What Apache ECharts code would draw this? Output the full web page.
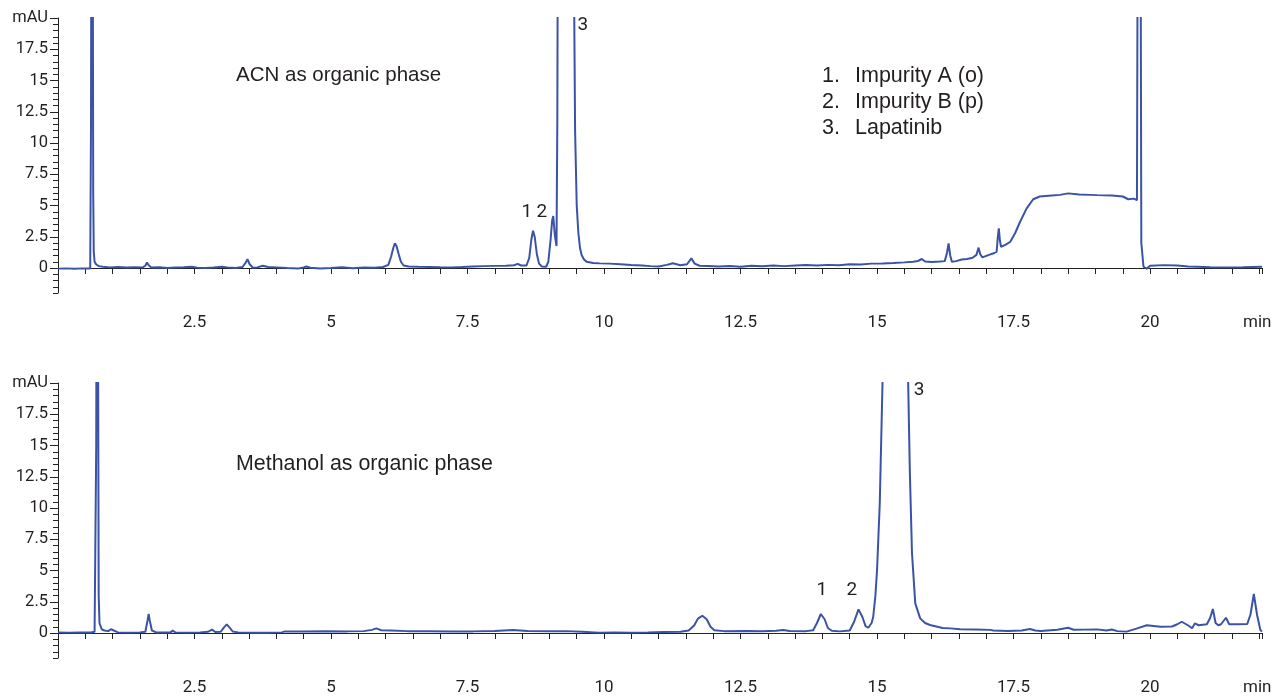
<!DOCTYPE html>
<html>
<head>
<meta charset="utf-8">
<script src="https://cdn.jsdelivr.net/npm/echarts@6/dist/echarts.min.js"></script>
<style>
html,body{margin:0;padding:0;background:#fff;}
#chart{width:1273px;height:696px;}
</style>
</head>
<body>
<div id="chart"></div>
<script>
// ---- data ----
const acnTime = [0.00,0.15,0.30,0.45,0.59,0.605,0.615,0.625,0.635,0.645,0.655,0.67,0.70,0.75,0.82,0.95,1.10,1.25,1.40,1.55,1.60,1.63,1.66,1.71,1.85,2.00,2.15,2.30,2.45,2.55,2.70,2.85,3.00,3.10,3.25,3.38,3.44,3.47,3.51,3.57,3.65,3.75,3.85,4.00,4.20,4.40,4.50,4.55,4.62,4.80,5.00,5.20,5.40,5.60,5.80,5.95,6.05,6.10,6.14,6.17,6.20,6.24,6.28,6.33,6.42,6.60,6.80,7.00,7.20,7.40,7.60,7.80,8.00,8.20,8.35,8.42,8.48,8.58,8.63,8.67,8.70,8.73,8.77,8.81,8.86,8.94,8.98,9.02,9.05,9.07,9.10,9.13,9.145,9.16,9.30,9.44,9.455,9.47,9.50,9.53,9.56,9.59,9.63,9.68,9.80,9.92,10.10,10.30,10.50,10.70,10.85,11.00,11.15,11.26,11.40,11.52,11.60,11.66,11.75,11.90,12.10,12.30,12.50,12.70,12.90,13.10,13.30,13.50,13.70,13.90,14.10,14.30,14.50,14.70,14.90,15.10,15.30,15.50,15.66,15.75,15.82,15.88,16.00,16.15,16.24,16.28,16.31,16.34,16.37,16.45,16.55,16.65,16.75,16.82,16.86,16.89,16.93,17.05,17.15,17.19,17.21,17.23,17.25,17.27,17.35,17.44,17.53,17.62,17.74,17.86,17.98,18.20,18.35,18.50,18.70,18.90,19.03,19.30,19.50,19.60,19.70,19.76,19.775,19.80,19.825,19.84,19.88,19.94,20.00,20.25,20.50,20.70,20.86,21.10,21.40,21.70,22.05];
const acnSignal = [-0.05,-0.03,-0.06,-0.03,-0.04,12,40,48,30,6,1.3,0.5,0.28,0.15,0.1,0.05,0.08,0.04,0.06,0.05,0.18,0.45,0.22,0.04,0.06,0.0,0.04,0.06,0.1,0.03,0.0,0.04,0.1,0.05,0.0,0.08,0.45,0.7,0.3,0.02,0.05,0.18,0.08,0.05,0.0,-0.04,0.05,0.12,0.02,-0.04,0.0,0.06,-0.02,0.04,0.02,0.08,0.25,0.9,1.6,1.97,1.75,1.1,0.5,0.2,0.12,0.1,0.08,0.06,0.05,0.08,0.12,0.15,0.17,0.18,0.22,0.33,0.2,0.2,0.8,2.3,2.98,2.5,1.1,0.35,0.12,0.1,0.5,2.2,3.8,4.16,2.6,1.76,12,40,150,40,20,11,5,2.8,1.6,1.04,0.7,0.5,0.4,0.37,0.35,0.3,0.24,0.2,0.15,0.12,0.25,0.38,0.22,0.3,0.77,0.35,0.18,0.16,0.12,0.16,0.1,0.18,0.14,0.2,0.15,0.2,0.24,0.2,0.25,0.22,0.3,0.28,0.35,0.36,0.4,0.45,0.5,0.56,0.72,0.52,0.48,0.52,0.55,1.2,1.97,1.0,0.5,0.55,0.68,0.72,0.82,1.05,1.63,1.1,0.85,1.05,1.2,1.3,2.4,3.17,2.2,1.7,1.85,2.1,2.8,3.7,4.77,5.5,5.72,5.8,5.85,5.97,5.88,5.85,5.83,5.8,5.72,5.5,5.55,5.43,30,45,30,2,0.1,-0.05,0.18,0.23,0.2,0.12,0.1,0.06,0.05,0.06,0.1];

const meohTime = [0.00,0.20,0.40,0.60,0.67,0.70,0.715,0.73,0.745,0.76,0.80,0.85,0.88,0.92,0.97,1.00,1.10,1.30,1.50,1.60,1.64,1.66,1.68,1.72,1.80,2.00,2.06,2.10,2.15,2.40,2.60,2.75,2.82,2.88,2.98,3.04,3.09,3.14,3.20,3.30,3.60,3.90,4.10,4.15,4.50,4.90,5.30,5.60,5.75,5.83,5.92,6.10,6.40,6.80,7.20,7.60,8.00,8.33,8.60,9.00,9.30,9.60,9.90,10.20,10.50,10.80,11.10,11.40,11.55,11.65,11.72,11.80,11.88,11.95,12.02,12.20,12.60,12.90,13.15,13.28,13.40,13.70,13.83,13.90,13.97,14.04,14.10,14.17,14.32,14.50,14.58,14.66,14.73,14.79,14.84,14.90,14.93,14.97,15.00,15.05,15.10,15.20,15.35,15.50,15.57,15.60,15.64,15.70,15.79,15.88,15.97,16.20,16.34,16.52,16.80,17.07,17.13,17.40,17.65,17.80,17.90,18.00,18.30,18.50,18.60,18.80,19.03,19.20,19.30,19.40,19.57,19.75,19.94,20.19,20.40,20.50,20.58,20.70,20.77,20.82,20.89,21.04,21.10,21.15,21.20,21.25,21.30,21.39,21.45,21.60,21.78,21.84,21.90,21.96,22.02,22.05];
const meohSignal = [0.05,0.03,0.05,0.04,0.1,15,45,30,3,0.8,0.3,0.2,0.3,0.15,0.3,0.15,0.05,0.03,0.05,0.1,1.0,1.52,1.0,0.2,0.05,0.05,0.05,0.19,0.05,0.03,0.05,0.1,0.27,0.08,0.1,0.45,0.69,0.45,0.12,0.05,0.02,0.03,0.05,0.13,0.12,0.14,0.13,0.15,0.25,0.37,0.22,0.2,0.15,0.14,0.13,0.13,0.16,0.24,0.16,0.15,0.15,0.1,0.03,0.05,0.03,0.05,0.08,0.1,0.2,0.6,1.15,1.38,1.1,0.5,0.22,0.15,0.16,0.14,0.18,0.24,0.16,0.15,0.22,0.8,1.52,1.1,0.4,0.18,0.13,0.2,0.9,1.89,1.3,0.55,0.42,0.8,1.3,3,5.04,10.4,20,60,150,60,20,13,6.4,2.37,1.17,0.8,0.64,0.4,0.37,0.3,0.28,0.25,0.2,0.16,0.2,0.32,0.2,0.16,0.26,0.42,0.26,0.27,0.29,0.2,0.28,0.15,0.11,0.35,0.62,0.5,0.52,0.7,0.9,0.6,0.38,0.77,0.62,0.7,1.2,1.92,0.8,0.62,0.7,1.22,0.7,0.7,0.72,1.5,3.12,1.44,0.24,0.11];

const yTickValues = [0,2.5,5,7.5,10,12.5,15,17.5,20];
const panelTitles = ['ACN as organic phase','Methanol as organic phase'];
const legendNumbers = ['1.','2.','3.'];
const legendNames = ['Impurity A (o)','Impurity B (p)','Lapatinib'];
const acnPeakLabels = [['1',8.585,4.48],['2',8.86,4.48],['3',9.61,19.4]];
const meohPeakLabels = [['1',13.99,3.44],['2',14.54,3.44],['3',15.77,19.4]];

// ---- chart ----
const TXT = '#231f20';
const LINE = '#3a53a6';
const chart = echarts.init(document.getElementById('chart'));

function zip(a,b){ return a.map((t,i)=>[t,b[i]]); }

const grids = [
  {left:58, right:11, top:18, height:275},
  {left:58, right:11, top:383, height:275}
];

const xAxes = [0,1].map(i=>({
  gridIndex:i, type:'value', min:0, max:22.05, interval:0.5,
  axisLine:{show:true, lineStyle:{color:'#222', width:1}},
  axisTick:{show:true, length:6, lineStyle:{color:'#222', width:1}},
  axisLabel:{
    margin:21, fontSize:17, color:TXT, fontFamily:'Roboto, sans-serif',
    formatter:v=>{
      const r=v/2.5;
      return (v>0 && v<22 && Math.abs(r-Math.round(r))<1e-6) ? String(v) : '';
    }
  },
  splitLine:{show:false}
}));

const yAxes = [];
[0,1].forEach(i=>{
  yAxes.push({
    gridIndex:i, type:'value', min:-2, max:20, position:'left',
    axisLine:{show:true, lineStyle:{color:'#222', width:1}},
    axisTick:{show:true, length:8, customValues:yTickValues, lineStyle:{color:'#222', width:1}},
    axisLabel:{customValues:yTickValues, margin:10, fontSize:16.5, color:TXT, fontFamily:'Roboto, sans-serif',
      formatter:v=> v===20 ? 'mAU' : String(v)},
    splitLine:{show:false}
  });
  yAxes.push({
    gridIndex:i, type:'value', min:-2, max:20, interval:0.5, position:'left',
    axisLine:{show:false},
    axisTick:{show:true, length:5, lineStyle:{color:'#222', width:1}},
    axisLabel:{show:false},
    splitLine:{show:false}
  });
});

function peakMarks(list){
  return {
    symbol:'rect', symbolSize:1, itemStyle:{color:'rgba(0,0,0,0)'},
    label:{show:true, position:'inside', formatter:'{b}', color:TXT, fontSize:19, fontFamily:'Roboto, sans-serif'},
    data:list.map(p=>({name:p[0], coord:[p[1],p[2]]}))
  };
}

const series = [
  {type:'line', xAxisIndex:0, yAxisIndex:0, data:zip(acnTime,acnSignal), showSymbol:false, symbol:'none',
   clip:true, lineStyle:{color:LINE, width:2}, markPoint:peakMarks(acnPeakLabels), silent:true},
  {type:'line', xAxisIndex:1, yAxisIndex:2, data:zip(meohTime,meohSignal), showSymbol:false, symbol:'none',
   clip:true, lineStyle:{color:LINE, width:2}, markPoint:peakMarks(meohPeakLabels), silent:true}
];

const titleFonts = ['20.5px "Liberation Sans", Arial, sans-serif','21.4px "Liberation Sans", Arial, sans-serif'];
const legendFont = '21.5px "Liberation Sans", Arial, sans-serif';
const graphic = [];
graphic.push({type:'text', x:236, y:75, style:{text:panelTitles[0], font:titleFonts[0], fill:TXT, textVerticalAlign:'middle'}});
graphic.push({type:'text', x:236, y:464, style:{text:panelTitles[1], font:titleFonts[1], fill:TXT, textVerticalAlign:'middle'}});
legendNumbers.forEach((n,k)=>{
  graphic.push({type:'text', x:822, y:76+26*k, style:{text:n, font:legendFont, fill:TXT, textVerticalAlign:'middle'}});
  graphic.push({type:'text', x:855, y:76+26*k, style:{text:legendNames[k], font:legendFont, fill:TXT, textVerticalAlign:'middle'}});
});
graphic.push({type:'text', x:1243, y:323, style:{text:'min', font:'17px Roboto, sans-serif', fill:TXT, textVerticalAlign:'middle'}});
graphic.push({type:'text', x:1243, y:688, style:{text:'min', font:'17px Roboto, sans-serif', fill:TXT, textVerticalAlign:'middle'}});

chart.setOption({
  animation:false,
  backgroundColor:'#fff',
  grid:grids, xAxis:xAxes, yAxis:yAxes, series:series, graphic:graphic
});
</script>
</body>
</html>
